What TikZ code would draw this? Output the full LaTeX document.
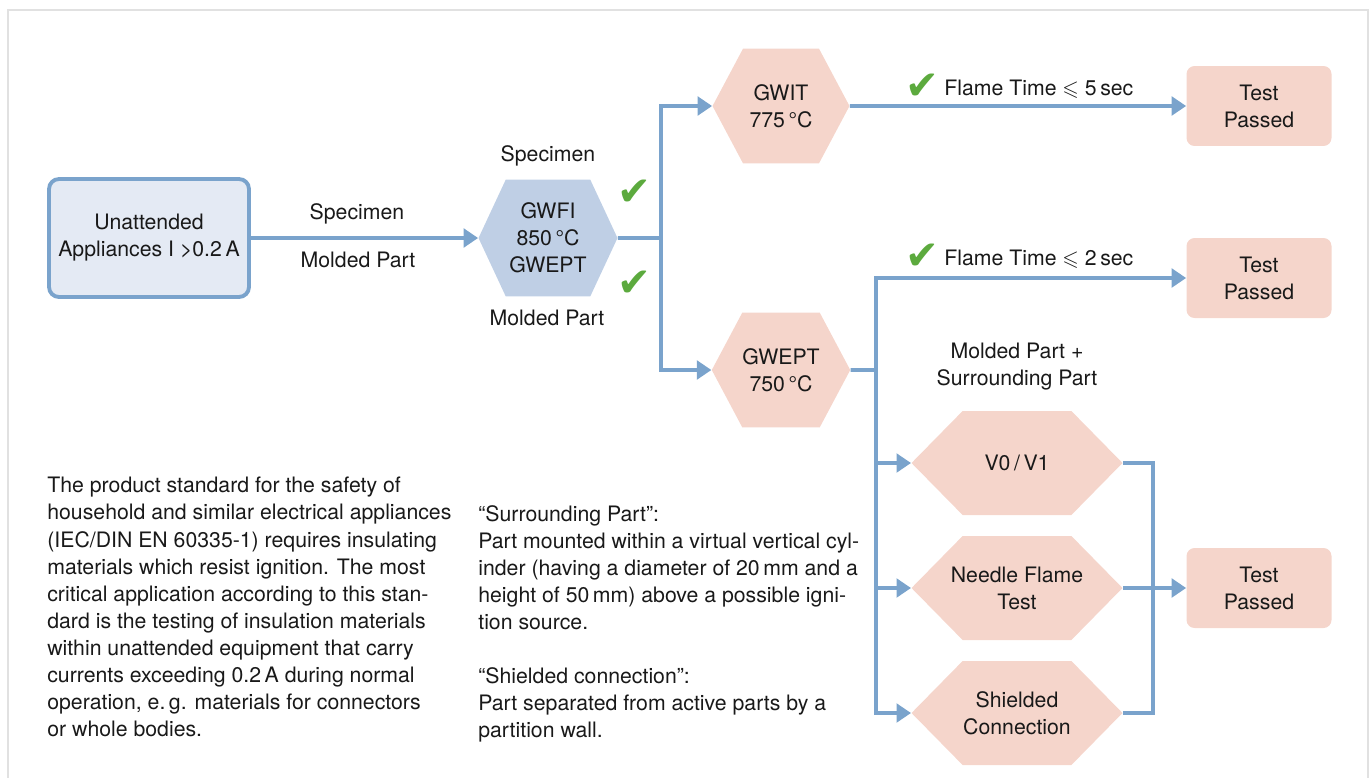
\documentclass[tikz,border=0pt]{standalone}
\usepackage{amssymb}
\usepackage{fontspec}
\setmainfont{TeX Gyre Heros}
\newfontfamily\symfont{DejaVu Sans}
\usetikzlibrary{shapes.symbols, arrows.meta, positioning, calc}

\definecolor{flowblue}{RGB}{122,163,204}
\definecolor{startfill}{RGB}{228,234,244}
\definecolor{hexblue}{RGB}{191,207,229}
\definecolor{pinkfill}{RGB}{245,213,203}
\definecolor{okgreen}{RGB}{92,170,62}
\definecolor{framegray}{RGB}{225,225,225}
\definecolor{textgray}{RGB}{25,25,25}

\newcommand{\okmark}{{\color{okgreen}\symfont\fontsize{23}{23}\selectfont ✔}}

\begin{document}
\begin{tikzpicture}[
    x=0.02cm, y=-0.02cm,
    font=\fontsize{12.1}{15.4}\selectfont,
    txt/.style={text=textgray, align=center},
    line/.style={draw=flowblue, line width=2.2pt},
    flow/.style={line, -{Triangle[length=0.29cm, width=0.37cm]}},
    startbox/.style={txt, draw=flowblue, line width=2.2pt, fill=startfill, rounded corners=0.2cm, minimum width=4.0cm, minimum height=2.36cm},
    passbox/.style={txt, fill=pinkfill, rounded corners=0.16cm, minimum width=2.9cm, minimum height=1.6cm},
    hexa/.style={txt, signal, signal to=west and east, inner sep=0pt},
    smallhex/.style={hexa, fill=pinkfill, minimum width=2.74cm, minimum height=2.3cm, signal pointer angle=124},
    bighex/.style={hexa, fill=pinkfill, inner xsep=-0.6cm, minimum width=4.22cm, minimum height=2.08cm, signal pointer angle=91},
    para/.style={text=textgray, align=left, anchor=north west, inner sep=0pt}
]
    \useasboundingbox (0,0) rectangle (1372,778);

    % Frame
    \draw[framegray, line width=0.04cm] (8,778) -- (8,10) -- (1368,10) -- (1368,778);

    % Main nodes
    \node[startbox] (start) at (149,238) {Unattended\\Appliances I >0.2\,A};
    \node[hexa, fill=hexblue, minimum width=2.78cm, minimum height=2.34cm, signal pointer angle=130] (gwfi) at (548,238) {GWFI\\850\,°C\\GWEPT};
    \node[smallhex] (gwit) at (781,106) {GWIT\\775\,°C};
    \node[smallhex] (gwept) at (781,370) {GWEPT\\750\,°C};

    \node[passbox] (pass1) at (1259,106) {Test\\Passed};
    \node[passbox] (pass2) at (1259,278) {Test\\Passed};
    \node[passbox] (pass3) at (1259,588) {Test\\Passed};

    \node[bighex] (vzero) at (1017,463) {V0\,/\,V1};
    \node[bighex] (needle) at (1017,588) {Needle Flame\\Test};
    \node[bighex] (shielded) at (1017,713) {Shielded\\Connection};

    % Junctions
    \coordinate (split) at (661,238);
    \coordinate (fork) at (876,370);
    \coordinate (join) at (1153,588);

    % Connectors
    \draw[flow] (start) -- (gwfi);
    \draw[line] (gwfi) -- (split);
    \draw[flow] (split) |- (gwit);
    \draw[flow] (split) |- (gwept);
    \draw[flow] (gwit) -- (pass1);
    \draw[line] (gwept) -- (fork);
    \draw[flow] (fork) |- (pass2);
    \draw[flow] (fork) |- (vzero);
    \draw[flow] (fork) |- (needle);
    \draw[flow] (fork) |- (shielded);
    \draw[line] (vzero) -| (join);
    \draw[line] (shielded) -| (join);
    \draw[line] (needle) -- (join);
    \draw[flow] (join) -- (pass3);

    % Labels
    \node[txt] (spec1) at (357,214) {Specimen};
    \node[txt] (mold1) at (358,260) {Molded Part};
    \node[txt] (spec2) at (548,156) {Specimen};
    \node[txt] (mold2) at (547,318) {Molded Part};
    \node (ok1) at (634,193) {\okmark};
    \node (ok2) at (634,284) {\okmark};
    \node (ok3) at (922,87) {\okmark};
    \node (ok4) at (922,257) {\okmark};
    \node[txt, anchor=west, inner sep=0pt] (flame5) at (944,89) {Flame Time $\leqslant$ 5\,sec};
    \node[txt, anchor=west, inner sep=0pt] (flame2) at (944,259) {Flame Time $\leqslant$ 2\,sec};
    \node[txt] (surr) at (1017,367) {Molded Part +\\Surrounding Part};

    % Text blocks
    \node[para] (desc) at (47,477) {The product standard for the safety of\\
        household and similar electrical appliances\\
        (IEC/DIN EN 60335-1) requires insulating\\
        materials which resist ignition. The most\\
        critical application according to this stan-\\
        dard is the testing of insulation materials\\
        within unattended equipment that carry\\
        currents exceeding 0.2\,A during normal\\
        operation, e.\,g. materials for connectors\\
        or whole bodies.};
    \node[para] (defs) at (478,505) {“Surrounding Part”:\\
        Part mounted within a virtual vertical cyl-\\
        inder (having a diameter of 20\,mm and a\\
        height of 50\,mm) above a possible igni-\\
        tion source.\\[15.4pt]
        “Shielded connection”:\\
        Part separated from active parts by a\\
        partition wall.};

\end{tikzpicture}
\end{document}
